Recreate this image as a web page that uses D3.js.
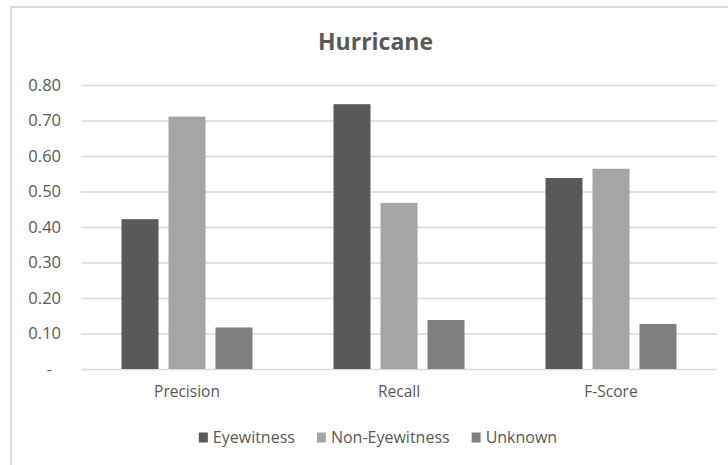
<!DOCTYPE html>
<html>
<head>
<meta charset="utf-8">
<script src="https://cdn.jsdelivr.net/npm/d3@7"></script>
<style>
  html, body { margin: 0; padding: 0; background: #ffffff; }
  svg { display: block; }
  text { font-family: "Open Sans", "DejaVu Sans", sans-serif; fill: #595959; }
</style>
</head>
<body>
<svg id="chart" width="728" height="465"></svg>
<script>
// Scores per metric for each class of tweet author
const categories = ["Precision", "Recall", "F-Score"];
const seriesNames = ["Eyewitness", "Non-Eyewitness", "Unknown"];
const eyewitness = [0.422, 0.746, 0.538];
const nonEyewitness = [0.711, 0.468, 0.564];
const unknown = [0.117, 0.138, 0.127];
const yTicks = [0, 0.1, 0.2, 0.3, 0.4, 0.5, 0.6, 0.7, 0.8];
const seriesColors = ["#595959", "#a5a5a5", "#7f7f7f"];
const title = "Hurricane";

const seriesValues = [eyewitness, nonEyewitness, unknown];
const rows = categories.map((c, i) => ({
  category: c,
  values: seriesNames.map((s, j) => ({ series: s, value: seriesValues[j][i] }))
}));

const svg = d3.select("#chart");
const plot = { left: 81, right: 717, top: 85, bottom: 369 };

// Chart frame (only top and left edges fall inside the view)
svg.append("path")
  .attr("d", `M11,470V7H740`)
  .attr("fill", "none")
  .attr("stroke", "#d9d9d9")
  .attr("stroke-width", 2);

const x0 = d3.scaleBand().domain(categories).range([plot.left, plot.right]).padding(0);
const x1 = d3.scaleBand().domain(seriesNames).range([0, x0.bandwidth()])
  .paddingInner(0.213).paddingOuter(0.862);
const y = d3.scaleLinear().domain([0, 0.8]).range([plot.bottom, plot.top]);
const color = d3.scaleOrdinal().domain(seriesNames).range(seriesColors);

// Horizontal gridlines
const grid = svg.append("g")
  .attr("transform", `translate(${plot.left},0)`)
  .call(d3.axisLeft(y).tickValues(yTicks).tickSize(-(plot.right - plot.left)).tickFormat(""));
grid.select(".domain").remove();
grid.selectAll(".tick line").attr("stroke", "#d9d9d9").attr("stroke-width", 1.5);

// Y axis labels
const yAxis = svg.append("g")
  .attr("transform", `translate(${plot.left},0)`)
  .call(d3.axisLeft(y).tickValues(yTicks).tickSize(0).tickPadding(20)
    .tickFormat(d => d === 0 ? "-" : d3.format(".2f")(d)));
yAxis.select(".domain").remove();
yAxis.selectAll("text")
  .style("font-size", "16.5px")
  .style("font-family", "'Open Sans', sans-serif")
  .attr("fill", "#595959")
  .attr("dx", d => d === 0 ? -9 : 0);

// Bars
const groups = svg.append("g").selectAll("g")
  .data(rows)
  .join("g")
  .attr("transform", d => `translate(${x0(d.category)},0)`);

groups.selectAll("rect")
  .data(d => d.values)
  .join("rect")
  .attr("x", d => x1(d.series))
  .attr("width", x1.bandwidth())
  .attr("y", d => y(d.value))
  .attr("height", d => y(0) - y(d.value))
  .attr("fill", d => color(d.series));

// Category labels
const xAxis = svg.append("g")
  .attr("transform", `translate(0,${plot.bottom})`)
  .call(d3.axisBottom(x0).tickSize(0).tickPadding(17));
xAxis.select(".domain").remove();
xAxis.selectAll("text")
  .style("font-size", "15.5px")
  .style("font-family", "'Open Sans', sans-serif")
  .attr("fill", "#595959");

// Title
svg.append("text")
  .attr("x", 375.5)
  .attr("y", 50)
  .attr("text-anchor", "middle")
  .style("font-size", "23px")
  .style("font-weight", "bold")
  .text(title);

// Legend, centred below the plot
const legend = svg.append("g").attr("class", "legend");
const items = legend.selectAll("g")
  .data(seriesNames)
  .join("g");
items.append("rect")
  .attr("width", 9)
  .attr("height", 10)
  .attr("y", -10.5)
  .attr("fill", d => color(d));
items.append("text")
  .attr("x", 14)
  .attr("y", 0)
  .style("font-size", "16px")
  .text(d => d);

let offset = 0;
items.each(function () {
  const w = 14 + d3.select(this).select("text").node().getComputedTextLength();
  d3.select(this).attr("transform", `translate(${offset},0)`);
  offset += w + 22;
});
const legendWidth = offset - 22;
legend.attr("transform", `translate(${378 - legendWidth / 2},443)`);
</script>
</body>
</html>
